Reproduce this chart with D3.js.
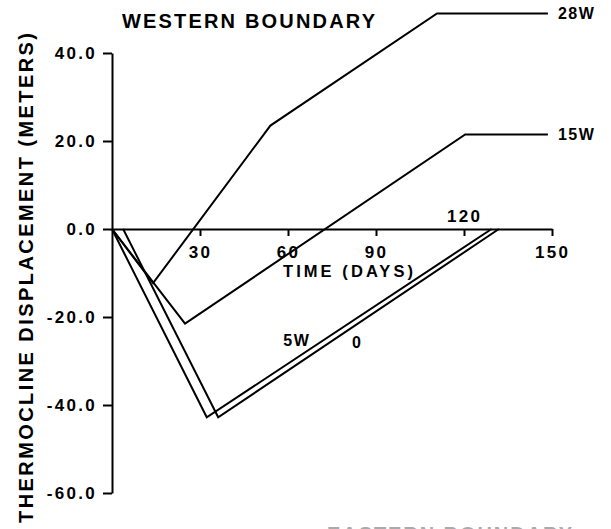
<!DOCTYPE html>
<html>
<head>
<meta charset="utf-8">
<script src="https://cdn.jsdelivr.net/npm/d3@7"></script>
<style>
  body { margin: 0; background: #fff; }
  text { font-family: "Liberation Sans", Arial, Helvetica, sans-serif; font-weight: bold; fill: #000; }
</style>
</head>
<body>
<div id="chart"></div>
<script>
// curves: [day, displacement in m]
const curve28W = [[0, 0], [14, -12.3], [54, 23.5], [110.8, 49], [148.6, 49]];
const curve15W = [[0, 0], [24.9, -21.5], [120.4, 21.5], [148.6, 21.5]];
const curve5W = [[0, 0], [32.3, -42.8], [129.4, 0]];
const curve0 = [[3.8, 0], [36.2, -42.8], [131.9, 0]];

const seriesNames = ["28W", "15W", "5W", "0"];
const xTicks = [30, 60, 90, 120, 150];
const yTicks = [-60, -40, -20, 0, 20, 40];

const svgWidth = 611;
const svgHeight = 529;

const svg = d3.select("#chart")
  .append("svg")
  .attr("width", svgWidth)
  .attr("height", svgHeight);

const x = d3.scaleLinear().domain([0, 150]).range([112, 552]);
const y = d3.scaleLinear().domain([-60, 40]).range([493, 53]);

// Eje Y
const yAxis = svg.append("g")
  .attr("transform", `translate(${x(0)},0)`)
  .call(d3.axisLeft(y).tickValues(yTicks).tickSize(9).tickSizeOuter(0).tickPadding(6)
    .tickFormat(d => d.toFixed(1)));
yAxis.select(".domain").attr("stroke-width", 2);
yAxis.selectAll(".tick line").attr("stroke-width", 2);
yAxis.selectAll(".tick text")
  .attr("font-size", 17)
  .attr("font-family", null)
  .attr("letter-spacing", 2.3);

// Eje X (en y = 0)
const xAxis = svg.append("g")
  .attr("transform", `translate(0,${y(0)})`)
  .call(d3.axisBottom(x).tickValues(xTicks).tickSize(7).tickSizeOuter(0).tickPadding(10));
xAxis.select(".domain").attr("stroke-width", 2);
xAxis.selectAll(".tick line").attr("stroke-width", 2);
xAxis.selectAll(".tick text")
  .attr("font-size", 17)
  .attr("font-family", null)
  .attr("letter-spacing", 2.3);
// 120 va encima del eje
xAxis.selectAll(".tick text").filter(d => d === 120)
  .attr("y", -7)
  .attr("dy", 0);

// Curvas
const line = d3.line().x(d => x(d[0])).y(d => y(d[1]));
const curves = [curve28W, curve15W, curve5W, curve0];

svg.selectAll(".curve")
  .data(curves)
  .enter()
  .append("path")
  .attr("class", "curve")
  .attr("d", line)
  .attr("fill", "none")
  .attr("stroke", "#000")
  .attr("stroke-width", 2)
  .attr("stroke-linejoin", "miter");

// Etiquetas al final (28W, 15W)
[curve28W, curve15W].forEach((c, i) => {
  const last = c[c.length - 1];
  svg.append("text")
    .attr("x", x(last[0]) + 10)
    .attr("y", y(last[1]))
    .attr("dy", "0.38em")
    .attr("font-size", 16)
    .attr("letter-spacing", 1.5)
    .text(seriesNames[i]);
});

// Etiquetas 5W y 0 junto a las lineas
svg.append("text")
  .attr("x", x(67.6))
  .attr("y", y(-26.6))
  .attr("text-anchor", "end")
  .attr("font-size", 16)
  .attr("letter-spacing", 1.5)
  .text(seriesNames[2]);
svg.append("text")
  .attr("x", x(81.8))
  .attr("y", y(-27))
  .attr("font-size", 16)
  .text(seriesNames[3]);

// Titulos
svg.append("text")
  .attr("x", 122)
  .attr("y", 28)
  .attr("font-size", 20)
  .attr("textLength", 253)
  .text("WESTERN BOUNDARY");

svg.append("text")
  .attr("x", 283)
  .attr("y", 277)
  .attr("font-size", 16.5)
  .attr("textLength", 130)
  .text("TIME (DAYS)");

svg.append("text")
  .attr("transform", "translate(33,523) rotate(-90)")
  .attr("font-size", 20)
  .attr("textLength", 490)
  .text("THERMOCLINE DISPLACEMENT (METERS)");

// texto cortado abajo
svg.append("text")
  .attr("x", 327)
  .attr("y", 541)
  .attr("font-size", 20)
  .attr("textLength", 245)
  .style("fill", "#aaa")
  .text("EASTERN BOUNDARY");
</script>
</body>
</html>
